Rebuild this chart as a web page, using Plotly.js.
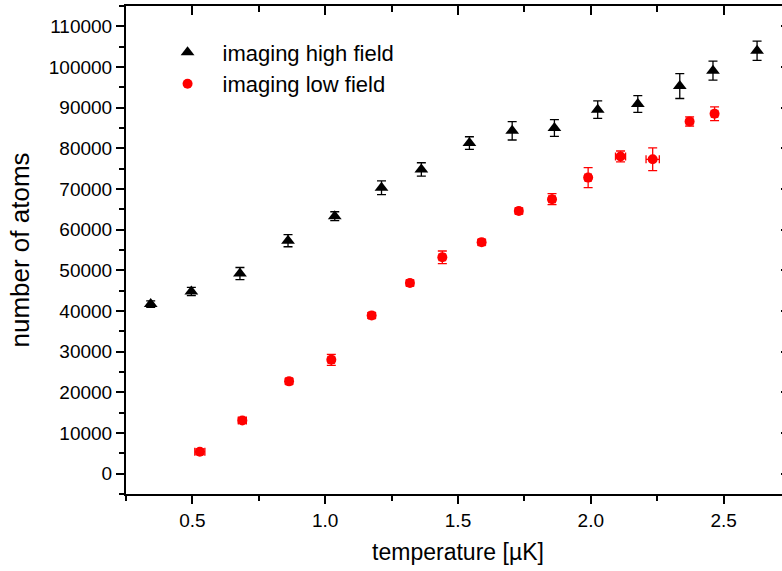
<!DOCTYPE html>
<html>
<head>
<meta charset="utf-8">
<script src="https://cdn.plot.ly/plotly-3.0.1.min.js"></script>
<style>
html, body { margin: 0; padding: 0; overflow: hidden; background: #fff; }
#chart { width: 792px; height: 571px; }
</style>
</head>
<body>
<div id="chart"></div>
<script>
// temperature [µK] and number of atoms, imaging high field
const highT = [0.343, 0.496, 0.679, 0.860, 1.036, 1.212, 1.362, 1.543, 1.704, 1.863, 2.026, 2.177, 2.335, 2.460, 2.626];
const highN = [41700, 44800, 49200, 57300, 63300, 70300, 74800, 81300, 84300, 85000, 89500, 90900, 95300, 99100, 104000];
const highNErr = [800, 1000, 1500, 1500, 1100, 1700, 1650, 1550, 2250, 2050, 2150, 2050, 3050, 2350, 2350];
const highTErr = [0.008, 0.008, 0.008, 0.008, 0.008, 0.008, 0.008, 0.008, 0.008, 0.008, 0.008, 0.008, 0.008, 0.008, 0.008];

// imaging low field
const lowT = [0.528, 0.688, 0.864, 1.023, 1.175, 1.319, 1.441, 1.589, 1.729, 1.854, 1.990, 2.112, 2.233, 2.372, 2.466];
const lowN = [5400, 13100, 22700, 28000, 38900, 46900, 53200, 56900, 64600, 67500, 72800, 78000, 77300, 86600, 88500];
const lowNErr = [700, 700, 700, 1350, 700, 700, 1550, 700, 700, 1350, 2450, 1350, 2800, 1150, 1700];
const lowTErr = [0.019, 0.015, 0.012, 0.012, 0.012, 0.012, 0.012, 0.012, 0.012, 0.012, 0.012, 0.019, 0.025, 0.012, 0.012];

const seriesNames = ["imaging high field", "imaging low field"];
const xTitle = "temperature [µK]";
const yTitle = "number of atoms";

const FONT = "Liberation Sans, Arial, sans-serif";

const traces = [
  {
    x: highT, y: highN, name: seriesNames[0], type: "scatter", mode: "markers",
    marker: { symbol: "triangle-up", size: 12, color: "#000000" },
    error_y: { type: "data", array: highNErr, visible: true, color: "#000000", thickness: 1.3, width: 4.5 },
    error_x: { type: "data", array: highTErr, visible: true, color: "#000000", thickness: 1.3, width: 0 }
  },
  {
    x: lowT, y: lowN, name: seriesNames[1], type: "scatter", mode: "markers",
    marker: { symbol: "circle", size: 10, color: "#ff0000" },
    error_y: { type: "data", array: lowNErr, visible: true, color: "#ff0000", thickness: 1.3, width: 4.5 },
    error_x: { type: "data", array: lowTErr, visible: true, color: "#ff0000", thickness: 1.3, width: 4 }
  },
  {
    x: highT, y: highN, xaxis: "x2", yaxis: "y2", type: "scatter", mode: "markers",
    marker: { opacity: 0, size: 1 }, hoverinfo: "skip", showlegend: false
  }
];

const xr = [0.25, 2.75];
const yr = [-5000, 115000];

const layout = {
  width: 792, height: 571,
  margin: { l: 126, r: 2, t: 6, b: 77 },
  paper_bgcolor: "#ffffff", plot_bgcolor: "#ffffff",
  font: { family: FONT, color: "#000000", size: 18 },
  showlegend: true,
  legend: {
    x: 0.04, y: 0.948, xanchor: "left", yanchor: "top",
    font: { family: FONT, size: 22, color: "#000000" },
    itemwidth: 60,
    bgcolor: "rgba(0,0,0,0)", borderwidth: 0, tracegroupgap: 0
  },
  xaxis: {
    range: xr, showgrid: false, zeroline: false,
    showline: true, linecolor: "#000000", linewidth: 2,
    ticks: "outside", ticklen: 8, tickwidth: 2, tickcolor: "#000000",
    tick0: 0, dtick: 0.5, tickformat: ".1f",
    minor: { ticks: "outside", ticklen: 5, tickwidth: 2, tickcolor: "#000000", dtick: 0.25, tick0: 0 },
    tickfont: { family: FONT, size: 19, color: "#000000" },
    title: { text: xTitle, font: { family: FONT, size: 23, color: "#000000" }, standoff: 14 }
  },
  yaxis: {
    range: yr, showgrid: false, zeroline: false,
    showline: true, linecolor: "#000000", linewidth: 2,
    ticks: "outside", ticklen: 8, tickwidth: 2, tickcolor: "#000000",
    tick0: 0, dtick: 10000, tickformat: "d",
    minor: { ticks: "outside", ticklen: 5, tickwidth: 2, tickcolor: "#000000", dtick: 5000, tick0: 0 },
    tickfont: { family: FONT, size: 19, color: "#000000" },
    title: { text: yTitle, font: { family: FONT, size: 26, color: "#000000" }, standoff: 12 }
  },
  xaxis2: {
    overlaying: "x", side: "top", range: xr, showgrid: false, zeroline: false,
    showline: true, linecolor: "#000000", linewidth: 2,
    ticks: "inside", ticklen: 9, tickwidth: 2, tickcolor: "#000000",
    tick0: 0, dtick: 0.5, showticklabels: false,
    minor: { ticks: "inside", ticklen: 6, tickwidth: 2, tickcolor: "#000000", dtick: 0.25, tick0: 0 }
  },
  yaxis2: {
    overlaying: "y", side: "right", range: yr, showgrid: false, zeroline: false,
    showline: true, linecolor: "#000000", linewidth: 2,
    ticks: "inside", ticklen: 9, tickwidth: 2, tickcolor: "#000000",
    tick0: 0, dtick: 10000, showticklabels: false,
    minor: { ticks: "inside", ticklen: 6, tickwidth: 2, tickcolor: "#000000", dtick: 5000, tick0: 0 }
  }
};

Plotly.newPlot("chart", traces, layout, { displayModeBar: false, staticPlot: true });
</script>
</body>
</html>
